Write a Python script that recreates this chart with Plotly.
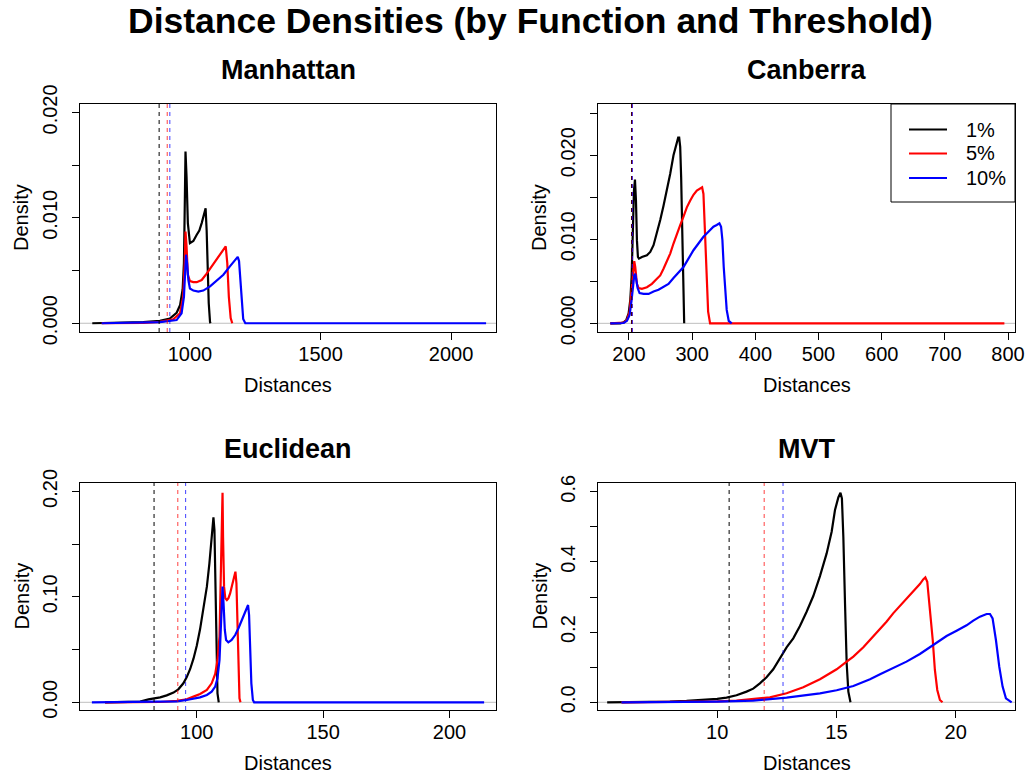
import plotly.graph_objects as go

# ---------------- data ----------------
labels = ["1%", "5%", "10%"]
colors = ["#000000", "#FF0000", "#0000FF"]
thr_colors = ["rgba(0,0,0,1)", "rgba(255,0,0,0.75)", "rgba(0,0,255,0.75)"]

# Manhattan
man_x_1 = [626, 757, 821, 885, 923, 949, 962, 972, 977, 981, 983, 987, 992, 1000, 1013, 1026, 1036, 1045, 1054, 1060, 1064, 1068, 1072, 1077, 1079]
man_y_1 = [0, 0.00003, 0.0001, 0.00022, 0.00044, 0.0010, 0.0017, 0.0032, 0.0057, 0.0126, 0.0163, 0.0139, 0.0095, 0.0076, 0.0078, 0.0084, 0.0088, 0.0095, 0.0105, 0.0109, 0.0088, 0.0051, 0.0019, 0.0001, 0]
man_x_5 = [662, 821, 885, 936, 962, 974, 980, 983, 987, 992, 1000, 1013, 1026, 1045, 1064, 1089, 1109, 1128, 1137, 1143, 1149, 1156, 1162]
man_y_5 = [0, 0.00003, 0.00013, 0.00038, 0.00095, 0.0025, 0.0057, 0.0087, 0.0073, 0.0046, 0.0040, 0.0039, 0.0039, 0.0041, 0.0047, 0.0056, 0.0063, 0.0071, 0.0073, 0.0057, 0.0025, 0.0005, 0]
man_x_10 = [662, 821, 885, 949, 968, 977, 982, 985, 989, 994, 1000, 1013, 1032, 1051, 1077, 1102, 1128, 1153, 1172, 1183, 1188, 1193, 1198, 1204, 1212, 2134]
man_y_10 = [0, 0.00003, 0.0001, 0.0003, 0.00095, 0.0025, 0.0051, 0.0065, 0.0057, 0.0041, 0.0033, 0.0031, 0.0030, 0.0031, 0.0035, 0.0040, 0.0046, 0.0054, 0.0060, 0.0063, 0.0059, 0.0044, 0.0022, 0.0004, 0, 0]
man_thr = [882, 913, 923]

# Canberra
can_x_1 = [170.5, 186.3, 191.6, 195.8, 199.5, 202.1, 204.2, 206.3, 207.9, 209.5, 211.1, 212.6, 214.2, 215.8, 220.5, 228.4, 233.7, 238.9, 244.2, 249.5, 254.7, 260.0, 265.3, 270.5, 274.7, 277.9, 279.5, 281.1, 282.6, 284.2, 285.3, 286.3, 287.4]
can_y_1 = [0, 0, 0.00012, 0.0004, 0.0012, 0.0028, 0.0055, 0.0119, 0.0158, 0.0171, 0.0146, 0.0099, 0.0079, 0.0077, 0.0079, 0.0081, 0.0085, 0.0093, 0.0107, 0.0123, 0.0140, 0.0158, 0.0178, 0.0200, 0.0214, 0.0221, 0.0221, 0.0210, 0.0174, 0.0111, 0.0055, 0.0016, 0]
can_x_5 = [170.5, 191.6, 196.8, 201.1, 204.2, 206.3, 208.4, 210.0, 212.6, 215.3, 220.5, 228.4, 236.3, 244.2, 249.5, 254.7, 260.0, 265.3, 270.5, 275.8, 281.1, 286.3, 291.6, 296.8, 302.1, 307.4, 312.6, 315.8, 317.9, 319.5, 321.1, 323.2, 325.3, 328.4, 794.2]
can_y_5 = [0, 0.00008, 0.0004, 0.0014, 0.0040, 0.0063, 0.0074, 0.0067, 0.0047, 0.0042, 0.0041, 0.0043, 0.0047, 0.0053, 0.0057, 0.0065, 0.0073, 0.0083, 0.0095, 0.0107, 0.0117, 0.0127, 0.0138, 0.0146, 0.0153, 0.0158, 0.0161, 0.0162, 0.0154, 0.0126, 0.0087, 0.0043, 0.0014, 0, 0]
can_x_10 = [170.5, 191.6, 196.8, 201.1, 204.2, 206.3, 208.4, 210.0, 211.6, 213.7, 216.8, 223.2, 231.1, 238.9, 246.8, 254.7, 262.6, 270.5, 278.4, 286.3, 294.2, 302.1, 310.0, 317.9, 325.8, 333.7, 338.9, 343.2, 345.8, 347.9, 350.0, 352.1, 354.7, 357.9, 362.6]
can_y_10 = [0, 0.00004, 0.0003, 0.0010, 0.0028, 0.0047, 0.0057, 0.0059, 0.0051, 0.0042, 0.0036, 0.0035, 0.0035, 0.0038, 0.0040, 0.0043, 0.0047, 0.0054, 0.0060, 0.0067, 0.0077, 0.0087, 0.0095, 0.0103, 0.0109, 0.0115, 0.0117, 0.0119, 0.0115, 0.0099, 0.0067, 0.0040, 0.0016, 0.0003, 0]
can_thr = [204.0, 205.0, 205.5]

# Euclidean
euc_x_1 = [63.7, 72.3, 77.6, 80.9, 82.9, 85.5, 88.1, 90.8, 92.7, 94.7, 96.0, 97.4, 98.7, 100.0, 101.3, 102.6, 104.0, 105.0, 105.9, 106.6, 107.0, 107.4, 107.8, 108.2, 108.7]
euc_y_1 = [0, 0, 0.0006, 0.0028, 0.0035, 0.0047, 0.0066, 0.0092, 0.0123, 0.0180, 0.0237, 0.0316, 0.0414, 0.0537, 0.0692, 0.0875, 0.1097, 0.1318, 0.1571, 0.1754, 0.1634, 0.1002, 0.0401, 0.0085, 0]
euc_x_5 = [63.7, 85.5, 92.1, 96.0, 98.7, 101.3, 104.0, 105.9, 107.3, 108.2, 109.0, 109.5, 109.9, 110.2, 110.4, 110.8, 111.3, 111.9, 112.5, 113.2, 114.0, 114.8, 115.3, 115.7, 116.1, 116.5, 116.9, 117.3]
euc_y_5 = [0, 0.0003, 0.0013, 0.0028, 0.0054, 0.0079, 0.0117, 0.0180, 0.0269, 0.0401, 0.0623, 0.1097, 0.1697, 0.1988, 0.1571, 0.1097, 0.0986, 0.0970, 0.0986, 0.1033, 0.1112, 0.1198, 0.1239, 0.1128, 0.0781, 0.0307, 0.0038, 0]
euc_x_10 = [58.5, 85.5, 92.1, 96.0, 98.7, 101.3, 104.0, 105.9, 107.3, 108.2, 109.0, 109.5, 109.9, 110.2, 110.6, 111.1, 111.6, 112.5, 113.8, 115.2, 116.5, 117.8, 119.1, 119.9, 120.3, 120.7, 121.1, 121.6, 122.2, 122.7, 213.7]
euc_y_10 = [0, 0.0003, 0.0009, 0.0022, 0.0035, 0.0047, 0.0070, 0.0101, 0.0149, 0.0228, 0.0401, 0.0686, 0.0970, 0.1097, 0.0939, 0.0686, 0.0591, 0.0569, 0.0591, 0.0638, 0.0702, 0.0781, 0.0860, 0.0913, 0.0923, 0.0828, 0.0528, 0.0180, 0.0022, 0, 0]
euc_thr = [83.1, 92.5, 95.6]

# MVT
mvt_x_1 = [5.385, 7.315, 8.014, 8.713, 9.413, 10.0, 10.39, 10.81, 11.23, 11.51, 11.79, 12.07, 12.35, 12.63, 12.91, 13.19, 13.47, 13.75, 14.03, 14.31, 14.59, 14.80, 14.94, 15.08, 15.17, 15.23, 15.29, 15.36, 15.43, 15.50, 15.59]
mvt_y_1 = [0, 0.0009, 0.0019, 0.0038, 0.0066, 0.0095, 0.0133, 0.0199, 0.0304, 0.0389, 0.0541, 0.0712, 0.0940, 0.1253, 0.1566, 0.1823, 0.2174, 0.2582, 0.3029, 0.3598, 0.4244, 0.4861, 0.5478, 0.5839, 0.5972, 0.5810, 0.4718, 0.2820, 0.1111, 0.0304, 0]
mvt_x_5 = [5.986, 8.713, 10.0, 10.81, 11.51, 12.21, 12.91, 13.61, 14.31, 15.01, 15.43, 15.71, 16.13, 16.55, 16.83, 17.10, 17.38, 17.66, 17.94, 18.22, 18.50, 18.64, 18.73, 18.81, 18.92, 19.04, 19.13, 19.23, 19.34, 19.45]
mvt_y_5 = [0, 0.0009, 0.0028, 0.0047, 0.0085, 0.0142, 0.0256, 0.0427, 0.0655, 0.0940, 0.1158, 0.1301, 0.1567, 0.1870, 0.2079, 0.2297, 0.2535, 0.2744, 0.2962, 0.3152, 0.3370, 0.3503, 0.3560, 0.3437, 0.2725, 0.1775, 0.0921, 0.0351, 0.0066, 0]
mvt_x_10 = [5.986, 8.014, 10.0, 11.51, 12.91, 14.31, 15.01, 15.71, 16.41, 16.83, 17.38, 17.94, 18.50, 19.06, 19.62, 20.04, 20.46, 20.74, 21.02, 21.30, 21.44, 21.55, 21.69, 21.83, 21.97, 22.11, 22.35]
mvt_y_10 = [0, 0.0009, 0.0019, 0.0047, 0.0133, 0.0256, 0.0342, 0.0465, 0.0655, 0.0797, 0.0968, 0.1158, 0.1377, 0.1633, 0.1889, 0.2041, 0.2193, 0.2326, 0.2440, 0.2516, 0.2516, 0.2392, 0.1775, 0.1016, 0.0446, 0.0114, 0]
mvt_thr = [10.50, 11.97, 12.76]

# tick values / labels
man_xticks = [1000, 1500, 2000]
man_yticks = [0, 0.005, 0.010, 0.015, 0.020]
man_ytext = ["0.000", "", "0.010", "", "0.020"]
can_xticks = [200, 300, 400, 500, 600, 700, 800]
can_yticks = [0, 0.005, 0.010, 0.015, 0.020, 0.025]
can_ytext = ["0.000", "", "0.010", "", "0.020", ""]
euc_xticks = [100, 150, 200]
euc_yticks = [0, 0.05, 0.10, 0.15, 0.20]
euc_ytext = ["0.00", "", "0.10", "", "0.20"]
mvt_xticks = [10, 15, 20]
mvt_yticks = [0, 0.1, 0.2, 0.3, 0.4, 0.5, 0.6]
mvt_ytext = ["0.0", "", "0.2", "", "0.4", "", "0.6"]

# ---------------- layout geometry ----------------
W, H = 1030, 778
FONT = "Liberation Sans, Arial, Helvetica, sans-serif"

panels = [
    dict(title="Manhattan", xs=[man_x_1, man_x_5, man_x_10], ys=[man_y_1, man_y_5, man_y_10], thr=man_thr,
         px=(80, 496), py=(104, 332), xr=[579, 2172], yr=[-0.00083, 0.0208],
         xt=man_xticks, yt=man_yticks, ytt=man_ytext),
    dict(title="Canberra", xs=[can_x_1, can_x_5, can_x_10], ys=[can_y_1, can_y_5, can_y_10], thr=can_thr,
         px=(598, 1015), py=(104, 332), xr=[151, 811], yr=[-0.00103, 0.0261],
         xt=can_xticks, yt=can_yticks, ytt=can_ytext),
    dict(title="Euclidean", xs=[euc_x_1, euc_x_5, euc_x_10], ys=[euc_y_1, euc_y_5, euc_y_10], thr=euc_thr,
         px=(80, 496), py=(483, 710), xr=[53.8, 218.4], yr=[-0.0073, 0.208],
         xt=euc_xticks, yt=euc_yticks, ytt=euc_ytext),
    dict(title="MVT", xs=[mvt_x_1, mvt_x_5, mvt_x_10], ys=[mvt_y_1, mvt_y_5, mvt_y_10], thr=mvt_thr,
         px=(598, 1015), py=(483, 710), xr=[5.0, 22.49], yr=[-0.022, 0.625],
         xt=mvt_xticks, yt=mvt_yticks, ytt=mvt_ytext),
]

fig = go.Figure()
layout = dict(
    width=W, height=H, margin=dict(l=0, r=0, t=0, b=0, pad=0, autoexpand=False),
    paper_bgcolor="white", plot_bgcolor="white",
    font=dict(family=FONT, size=20, color="black"),
    showlegend=False,
)
shapes = []
annotations = []


def px2x(v):
    return v / W


def py2y(v):
    return 1 - v / H


for i, p in enumerate(panels):
    n = "" if i == 0 else str(i + 1)
    xa, ya = "x" + n, "y" + n
    x0, x1 = p["px"]
    y0, y1 = p["py"]
    layout["xaxis" + n] = dict(
        domain=[px2x(x0), px2x(x1)], range=p["xr"], anchor=ya,
        showline=True, mirror=True, linecolor="black", linewidth=1,
        ticks="outside", ticklen=7, tickcolor="black", tickwidth=1,
        tickvals=p["xt"], ticktext=[str(v) for v in p["xt"]],
        showgrid=False, zeroline=False, tickfont=dict(size=20),
        ticklabelstandoff=-3, automargin=False,
    )
    layout["yaxis" + n] = dict(
        domain=[py2y(y1), py2y(y0)], range=p["yr"], anchor=xa,
        showline=True, mirror=True, linecolor="black", linewidth=1,
        ticks="outside", ticklen=7, tickcolor="black", tickwidth=1,
        tickvals=p["yt"], ticktext=p["ytt"], tickangle=-90,
        showgrid=False, zeroline=False, tickfont=dict(size=20),
        ticklabelstandoff=7, automargin=False,
    )
    # zero reference line (gray)
    shapes.append(dict(type="line", xref=xa + " domain", yref=ya, x0=0, x1=1, y0=0, y1=0,
                       line=dict(color="#BEBEBE", width=1), layer="below"))
    # density curves
    for k in range(3):
        fig.add_trace(go.Scatter(
            x=p["xs"][k], y=p["ys"][k], mode="lines", name=labels[k],
            line=dict(color=colors[k], width=2.2), xaxis=xa, yaxis=ya,
            showlegend=False, hoverinfo="skip",
        ))
    # threshold dashed lines
    for k in range(3):
        shapes.append(dict(type="line", xref=xa, yref=ya + " domain", x0=p["thr"][k], x1=p["thr"][k],
                           y0=0, y1=1, line=dict(color=thr_colors[k], width=1, dash="4px,4px")))
    # panel title
    cx = px2x((x0 + x1) / 2)
    annotations.append(dict(text="<b>%s</b>" % p["title"], x=cx, xref="paper", xanchor="center",
                            y=py2y(y0 - 34), yref="paper", yanchor="middle", showarrow=False,
                            font=dict(size=27)))
    # x axis title
    annotations.append(dict(text="Distances", x=cx, xref="paper", xanchor="center",
                            y=py2y(y1 + 53), yref="paper", yanchor="middle", showarrow=False,
                            font=dict(size=20)))
    # y axis title
    annotations.append(dict(text="Density", x=px2x(x0 - 59), xref="paper", xanchor="center",
                            y=py2y((y0 + y1) / 2), yref="paper", yanchor="middle", showarrow=False,
                            textangle=-90, font=dict(size=20)))

# legend (Canberra panel, top-right, R style)
leg_box = (891, 104, 1015, 202)
shapes.append(dict(type="rect", xref="paper", yref="paper",
                   x0=px2x(leg_box[0]), x1=px2x(leg_box[2]), y0=py2y(leg_box[3]), y1=py2y(leg_box[1]),
                   line=dict(color="black", width=1), fillcolor="white", layer="above"))
leg_rows = [129.5, 153.5, 178]
for k in range(3):
    shapes.append(dict(type="line", xref="paper", yref="paper",
                       x0=px2x(909), x1=px2x(947), y0=py2y(leg_rows[k]), y1=py2y(leg_rows[k]),
                       line=dict(color=colors[k], width=2.2), layer="above"))
    annotations.append(dict(text=labels[k], x=px2x(964), xref="paper", xanchor="left",
                            y=py2y(leg_rows[k]), yref="paper", yanchor="middle", showarrow=False,
                            font=dict(size=20)))

annotations.append(dict(text="<b>Distance Densities (by Function and Threshold)</b>",
                        x=px2x(530), xref="paper", xanchor="center", y=py2y(21), yref="paper",
                        yanchor="middle", showarrow=False, font=dict(size=35.5)))

layout["shapes"] = shapes
layout["annotations"] = annotations
fig.update_layout(**layout)
fig.write_html("out.html", config={"displayModeBar": False},
               post_script="document.body.style.margin='0px';document.body.style.overflow='hidden';")
